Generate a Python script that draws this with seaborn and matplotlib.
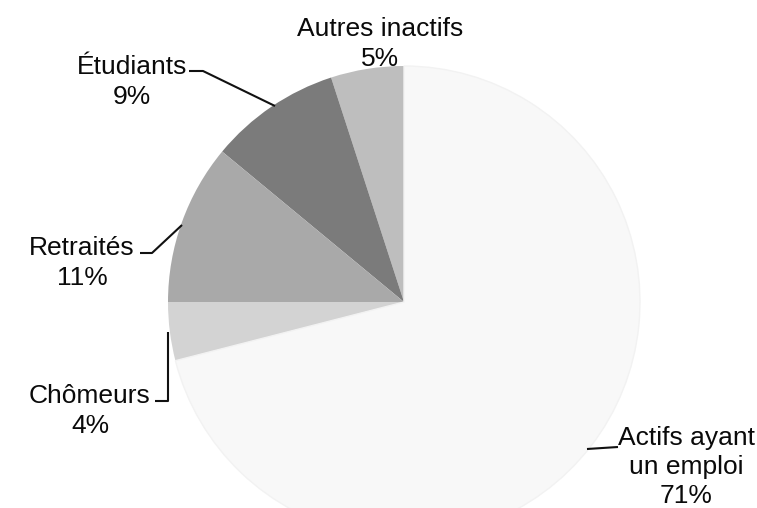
import matplotlib
matplotlib.use('Agg')
import matplotlib.pyplot as plt
import seaborn as sns

# data
categories = ['Autres inactifs', 'Étudiants', 'Retraités', 'Chômeurs', 'Actifs ayant\nun emploi']
shares = [5, 9, 11, 4, 71]
colors = ['#bebebe', '#7b7b7b', '#a9a9a9', '#d3d3d3', '#f8f8f8']

sns.set_theme(style='white')
plt.rcParams['font.family'] = ['Liberation Sans', 'DejaVu Sans']

W, H = 757, 508
fig = plt.figure(figsize=(W / 100, H / 100), dpi=100)
ax = fig.add_axes([0, 0, 1, 1])

# pie centre and radius in pixel units (y measured from bottom)
cx, cy, r = 404, H - 302, 236
wedges, _ = ax.pie(shares, colors=colors, startangle=90, counterclock=True,
                   center=(cx, cy), radius=r, frame=True,
                   wedgeprops=dict(linewidth=0))
wedges[-1].set_edgecolor('#f2f2f2')
wedges[-1].set_linewidth(1.0)
ax.set_xlim(0, W)
ax.set_ylim(0, H)
ax.set_aspect('equal')
ax.axis('off')

fs = 19
def label(x, y, text, ls=1.3):
    ax.text(x, H - y, text, ha='center', va='center', fontsize=fs,
            color='#0a0a0a', linespacing=ls)

def leader(xs, ys):
    ax.plot(xs, [H - v for v in ys], color='#111111', lw=1.5,
            solid_capstyle='butt')

label(380, 44, f'{categories[0]}\n{shares[0]}%')
label(132, 82, f'{categories[1]}\n{shares[1]}%')
leader([189, 203, 275], [71, 71, 106])
label(82, 263, f'{categories[2]}\n{shares[2]}%')
leader([140, 152, 182], [253, 253, 225])
label(90, 411, f'{categories[3]}\n{shares[3]}%')
leader([155, 168, 168], [401, 401, 332])
label(686, 467, f'{categories[4]}\n{shares[4]}%', ls=1.25)
leader([587, 618], [449, 447])

fig.savefig('out.png', dpi=100, facecolor='white')
